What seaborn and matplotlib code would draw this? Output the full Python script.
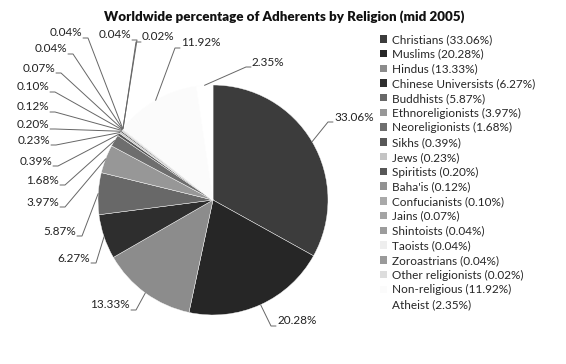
import numpy as np
import matplotlib
matplotlib.use('Agg')
import matplotlib.pyplot as plt
import seaborn as sns
from matplotlib.patches import Patch

# ---- data ----
religions = ["Christians", "Muslims", "Hindus", "Chinese Universists", "Buddhists",
             "Ethnoreligionists", "Neoreligionists", "Sikhs", "Jews", "Spiritists",
             "Baha'is", "Confucianists", "Jains", "Shintoists", "Taoists",
             "Zoroastrians", "Other religionists", "Non-religious", "Atheist"]
shares = [33.06, 20.28, 13.33, 6.27, 5.87, 3.97, 1.68, 0.39, 0.23, 0.20,
          0.12, 0.10, 0.07, 0.04, 0.04, 0.04, 0.02, 11.92, 2.35]
colors = ["#3c3c3c", "#262626", "#8c8c8c", "#2e2e2e", "#686868", "#979797",
          "#6e6e6e", "#575757", "#c4c4c4", "#575757", "#929292", "#a9a9a9",
          "#a4a4a4", "#9c9c9c", "#eeeeee", "#9a9a9a", "#dddddd", "#fbfbfb", "#ffffff"]
title = "Worldwide percentage of Adherents by Religion (mid 2005)"

# ---- layout (label placement in pixels, top-left origin) ----
label_pos = [("R", 334, 117), ("R", 277, 321), ("L", 130, 305), ("L", 90, 258),
             ("L", 76, 231), ("L", 59, 202), ("L", 59, 180), ("L", 52, 161),
             ("L", 50, 140), ("L", 49, 124), ("L", 49, 107), ("L", 49, 87),
             ("L", 55, 68), ("L", 67, 49), ("L", 82, 33), ("L", 131, 35),
             ("R", 142, 37), ("R", 181, 43), ("R", 252, 62)]

W, H = 566, 364
CX, CY, R = 213, 200, 115

sns.set_theme(style="white")
plt.rcParams['font.family'] = ['Lato', 'DejaVu Sans']

fig = plt.figure(figsize=(W / 100, H / 100), dpi=100)
fig.patch.set_facecolor("white")
ax = fig.add_axes([0, 0, 1, 1])
wedges, _ = ax.pie(shares, colors=colors, startangle=90, counterclock=False, radius=1,
                   wedgeprops=dict(linewidth=0.3, edgecolor="#fdfdfd"))
ax.set_xlim(-CX / R, (W - CX) / R)
ax.set_ylim(-(H - CY) / R, CY / R)
ax.set_aspect("auto")
ax.axis("off")


def to_data(px, py):
    return (px - CX) / R, (CY - py) / R


lc = "#666666"
for w, share, (side, px, py) in zip(wedges, shares, label_pos):
    ang = np.deg2rad((w.theta1 + w.theta2) / 2)
    ex, ey = np.cos(ang), np.sin(ang)
    lab = f"{share:.2f}%"
    tx, ty = to_data(px, py)
    if side == "L":
        ax.text(tx, ty, lab, ha="right", va="center", fontsize=8.5, color="#222222")
        a = to_data(px + 1, py + 5)
        b = to_data(px + 6, py + 5)
    else:
        ax.text(tx, ty, lab, ha="left", va="center", fontsize=8.5, color="#222222")
        a = to_data(px - 1, py + 5)
        b = to_data(px - 6, py + 5)
    ax.plot([a[0], b[0], ex], [a[1], b[1], ey], color=lc, lw=0.7, clip_on=False)

fig.text(284 / W, 1 - 17 / H, title, ha="center", va="center",
         fontsize=9.6, fontweight="heavy", color="#111111")

handles = [Patch(facecolor=c, edgecolor="none") for c in colors]
labels = [f"{r} ({s:.2f}%)" for r, s in zip(religions, shares)]
fig.legend(handles, labels, loc="upper left", bbox_to_anchor=(380 / W, 1 - 34 / H),
           frameon=False, fontsize=8.5, handlelength=0.6, handleheight=0.6,
           handletextpad=0.4, labelspacing=0.315, borderpad=0, borderaxespad=0)

fig.savefig("out.png", dpi=100, facecolor="white")
